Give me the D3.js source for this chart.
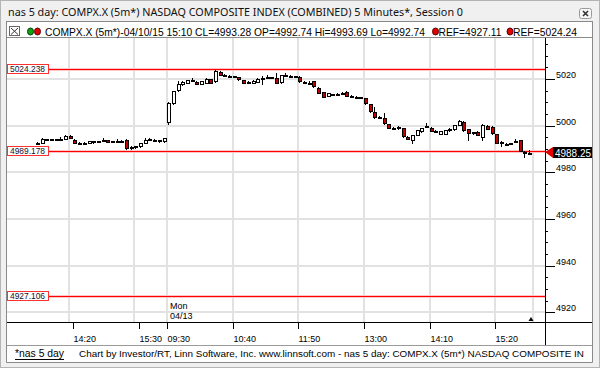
<!DOCTYPE html>
<html><head><meta charset="utf-8">
<script src="https://cdn.jsdelivr.net/npm/d3@7"></script>
<style>body{margin:0;background:#f0f0f0;}svg{display:block;}</style>
</head><body>
<svg id="c" width="600" height="368"></svg>
<script>
// ---- data ----
const opens = [
4992.3,4992.6,4994.2,4994.1,4994.0,4994.1,4994.3,4995.6,4993.9,4992.7,
4992.6,4992.6,4993.3,4993.4,4993.6,4993.9,4993.2,4993.4,4993.6,4993.8,
4990.3,4991.0,4991.2,4992.5,4994.0,4994.0,4993.8,4993.4,
5001.4,5009.6,5015.2,5017.8,5018.5,5019.2,5018.9,5018.0,5018.3,5019.9,
5019.0,5023.2,5021.6,5021.4,5021.3,5020.8,5019.6,5018.8,5018.4,5018.9,
5020.0,5020.6,5020.7,5020.3,5018.6,5021.7,5021.5,5021.3,5021.0,5018.9,
5018.5,5019.1,5016.3,5014.3,5012.9,5013.2,5013.7,5014.0,5014.6,5012.6,
5012.4,5012.1,5011.7,5009.3,5006.0,5003.6,5003.2,5000.7,4999.0,4999.2,
4998.9,4995.3,4994.0,4996.2,4997.6,4999.8,4999.1,4997.6,4996.5,4996.6,
4998.3,4998.4,5000.3,5001.7,4998.4,4997.0,4997.4,4995.0,5000.0,4999.5,
4996.4,4993.2,4992.2,4992.4,4993.4,4993.8,4988.9,4988.4];
const highs = [
4992.9,4994.6,4994.4,4994.3,4994.3,4995.0,4995.9,4995.8,4994.2,4993.1,
4993.0,4993.5,4993.5,4993.6,4994.5,4994.0,4993.5,4994.3,4993.8,4994.2,
4991.2,4991.4,4992.5,4994.7,4994.8,4994.2,4994.0,4994.9,
5010.0,5015.0,5019.0,5019.3,5019.8,5020.6,5019.1,5019.2,5020.4,5020.1,
5023.7,5023.5,5022.3,5021.7,5021.5,5021.0,5019.8,5019.0,5019.4,5020.4,
5021.2,5021.6,5021.0,5022.6,5021.9,5022.6,5021.9,5021.5,5021.2,5019.1,
5019.2,5019.3,5016.5,5014.5,5014.2,5013.7,5014.0,5014.3,5014.8,5013.1,
5012.7,5012.3,5011.9,5009.5,5008.0,5004.3,5005.4,5000.9,4999.6,4999.9,
4999.1,4995.5,4996.2,4998.2,4999.2,5001.3,4999.4,4998.0,4997.8,4998.2,
4998.9,5000.5,5002.6,5002.0,4998.6,4997.5,4997.6,5000.8,5000.3,4999.8,
4996.6,4993.5,4992.4,4992.6,4994.3,4994.0,4989.2,4989.4];
const lows = [
4992.0,4992.4,4993.9,4993.9,4993.8,4994.0,4994.1,4994.6,4992.4,4992.2,
4992.2,4992.5,4992.7,4993.3,4993.5,4993.1,4993.1,4993.3,4993.2,4989.9,
4989.8,4990.5,4991.0,4992.4,4993.8,4993.7,4993.0,4993.2,
5000.6,5009.4,5015.0,5017.6,5018.3,5019.0,5017.8,5017.8,5018.2,5018.3,
5018.8,5021.6,5021.3,5021.1,5021.0,5019.8,5018.3,5018.1,5018.3,5018.8,
5017.7,5020.4,5020.6,5018.2,5018.4,5021.5,5021.2,5021.0,5018.8,5018.4,
5018.3,5016.6,5013.8,5012.3,5012.7,5013.0,5013.0,5013.8,5012.7,5012.3,
5012.1,5011.8,5009.5,5005.9,5003.5,5003.1,5000.8,4998.8,4998.7,4998.7,
4995.2,4994.2,4992.4,4996.1,4997.5,4999.6,4997.7,4997.3,4996.3,4996.4,
4997.8,4998.2,5000.2,4997.9,4993.9,4996.6,4995.9,4994.0,4998.4,4996.5,
4992.5,4991.3,4991.9,4992.1,4993.3,4989.1,4986.6,4987.8];
const closes = [
4992.6,4994.2,4994.1,4994.0,4994.1,4994.3,4995.6,4994.9,4992.7,4992.6,
4992.5,4993.3,4993.4,4993.5,4993.8,4993.2,4993.3,4993.6,4993.5,4990.4,
4991.0,4991.1,4992.4,4993.9,4994.1,4993.9,4993.3,4994.7,
5009.8,5014.8,5018.0,5018.9,5019.5,5019.6,5018.0,5019.0,5020.2,5018.5,
5023.4,5021.8,5021.5,5021.3,5021.2,5020.0,5018.5,5018.3,5019.2,5020.1,
5020.3,5020.7,5020.8,5018.5,5021.7,5021.8,5021.4,5021.2,5019.0,5018.6,
5018.4,5016.8,5014.0,5012.5,5014.0,5013.5,5013.6,5014.1,5012.9,5012.4,
5012.3,5012.0,5009.7,5006.1,5003.7,5003.5,5001.0,4999.0,4998.9,4999.3,
4995.4,4994.4,4996.0,4998.0,4999.0,5000.0,4997.9,4997.5,4997.6,4998.0,
4998.4,5000.3,5002.0,4998.1,4997.0,4997.1,4996.1,5000.2,4998.6,4996.7,
4992.7,4993.0,4992.1,4992.3,4993.6,4989.3,4988.6,4988.25];

// bar categories: Friday 13:40-15:55, Monday 09:30-15:55 (plus session end 16:00)
const sessions = [["Fri", "13:40", 28], ["Mon", "09:30", 78]];
const barKeys = [];
sessions.forEach(([day, start, n]) => {
  let [h, m] = start.split(":").map(Number);
  for (let k = 0; k < n; k++) {
    const t = h * 60 + m + 5 * k;
    barKeys.push(day + " " + String(Math.floor(t / 60)).padStart(2, "0") + ":" + String(t % 60).padStart(2, "0"));
  }
});
const xTickKeys = ["Fri 14:20","Fri 15:30","Mon 09:30","Mon 10:40","Mon 11:50","Mon 13:00","Mon 14:10","Mon 15:20"];
const xGridKeys = ["Fri 14:15","Fri 15:25","Mon 09:30","Mon 10:40","Mon 11:50","Mon 13:00","Mon 14:10","Mon 15:20","Mon 16:00"];
const yMajorTicks = [4920, 4940, 4960, 4980, 5000, 5020];
const yMinorTicks = [4920,4925,4930,4935,4940,4945,4950,4955,4960,4965,4970,4975,4980,4985,4990,4995,5000,5005,5010,5015,5020,5025,5030,5035];
const refLevels = [5024.238, 4989.178, 4927.106];
const refLabels = ["5024.238", "4989.178", "4927.106"];
const lastPrice = 4988.25;
const dayMarker = ["Mon", "04/13"];
const titleText = "nas 5 day: COMPX.X (5m*) NASDAQ COMPOSITE INDEX (COMBINED) 5 Minutes*, Session 0";
const legendText = "COMPX.X (5m*)-04/10/15 15:10 CL=4993.28 OP=4992.74 Hi=4993.69 Lo=4992.74";
const refLegend = ["REF=4927.11", "REF=5024.24"];
const footerLink = "*nas 5 day";
const footerText = "Chart by Investor/RT, Linn Software, Inc. www.linnsoft.com - nas 5 day: COMPX.X (5m*) NASDAQ COMPOSITE IN";

// ---- layout ----
const plotL = 7, plotR = 545, plotT = 38, plotB = 322, frameR = 592, footT = 345, frameB = 362;
const svg = d3.select("#c");
const keyIndex = k => k === "Mon 16:00" ? barKeys.length : barKeys.indexOf(k);

const x = d3.scaleLinear().domain([0, 106]).range([36, 36 + 106 * 4.686]).interpolate(d3.interpolateRound);
const y = d3.scaleLinear().domain([4915.8, 5037.6]).range([plotB, plotT]).interpolate(d3.interpolateRound);

// background & frame
svg.append("rect").attr("width", 600).attr("height", 368).attr("fill", "#f0f0f0");
svg.append("rect").attr("x", 0.5).attr("y", 0.5).attr("width", 599).attr("height", 367).attr("fill", "none").attr("stroke", "#b4b4b4");
svg.append("rect").attr("x", plotL).attr("y", plotT).attr("width", frameR - plotL).attr("height", frameB - plotT).attr("fill", "#fff");
svg.append("rect").attr("x", 6.5).attr("y", 21.5).attr("width", 586).attr("height", 16).attr("fill", "#fff").attr("stroke", "#8a8a8a");
svg.append("path").attr("d", `M6.5,37.5V${frameB + 0.5}H${frameR + 0.5}V21.5`).attr("fill", "none").attr("stroke", "#8a8a8a");
svg.append("line").attr("x1", 6.5).attr("x2", frameR + 0.5).attr("y1", footT + 0.5).attr("y2", footT + 0.5).attr("stroke", "#9a9a9a");

// gridlines
const grid = svg.append("g").attr("stroke", "#e2e2e2").attr("stroke-width", 2);
grid.selectAll("line.v").data(xGridKeys).join("line").attr("class", "v")
  .attr("x1", k => x(keyIndex(k))).attr("x2", k => x(keyIndex(k)))
  .attr("y1", plotT).attr("y2", plotB);
grid.selectAll("line.h").data(yMajorTicks).join("line").attr("class", "h")
  .attr("x1", plotL).attr("x2", plotR).attr("y1", d => y(d)).attr("y2", d => y(d));

// reference lines (pink halo + red core)
const refG = svg.append("g");
refG.selectAll("line.halo").data(refLevels).join("line").attr("class", "halo")
  .attr("x1", plotL).attr("x2", plotR)
  .attr("y1", d => y(d) + 0.5).attr("y2", d => y(d) + 0.5)
  .attr("stroke", "#ffc4c4").attr("stroke-width", 3);
refG.selectAll("line.core").data(refLevels).join("line").attr("class", "core")
  .attr("x1", plotL).attr("x2", plotR)
  .attr("y1", d => y(d) + 0.5).attr("y2", d => y(d) + 0.5)
  .attr("stroke", "#ff0000").attr("stroke-width", 1);

// candles
const idx = d3.range(opens.length);
const cg = svg.append("g");
cg.selectAll("line").data(idx).join("line")
  .attr("x1", i => x(i) + 1.5).attr("x2", i => x(i) + 1.5)
  .attr("y1", i => y(highs[i])).attr("y2", i => y(lows[i]) + 1)
  .attr("stroke", "#000").attr("stroke-width", 1);
cg.selectAll("rect").data(idx).join("rect")
  .attr("x", i => x(i) + 0.5)
  .attr("y", i => y(Math.max(opens[i], closes[i])) + 0.5)
  .attr("width", 3)
  .attr("height", i => Math.max(1, y(Math.min(opens[i], closes[i])) - y(Math.max(opens[i], closes[i]))))
  .attr("fill", i => closes[i] >= opens[i] ? "#fff" : "#c00000")
  .attr("stroke", "#000").attr("stroke-width", 1);

// reference labels (left)
const rl = svg.append("g").selectAll("g").data(refLevels).join("g")
  .attr("transform", d => `translate(0,${y(d)})`);
rl.append("rect").attr("x", 7.5).attr("y", -4.5).attr("width", 41).attr("height", 9)
  .attr("fill", "#fff").attr("stroke", "#ff3030");
rl.append("text").attr("x", 10).attr("y", 3).text((d, i) => refLabels[i])
  .attr("font-family", "Liberation Sans, Arial, sans-serif").attr("font-size", 9).attr("fill", "#101030")
  .attr("textLength", 35).attr("lengthAdjust", "spacingAndGlyphs");

// right axis
const yMinor = svg.append("g").attr("transform", `translate(${plotR},0)`)
  .call(d3.axisRight(y).tickValues(yMinorTicks.filter(v => !yMajorTicks.includes(v))).tickSize(3).tickFormat(""));
yMinor.select(".domain").remove();
const yMajor = svg.append("g").attr("transform", `translate(${plotR},0)`)
  .call(d3.axisRight(y).tickValues(yMajorTicks).tickSize(10).tickFormat(d3.format("d")));
yMajor.select(".domain").remove();
yMajor.selectAll("text").attr("x", 11).attr("dy", "-0.15em")
  .attr("font-family", "Liberation Sans, Arial, sans-serif").attr("font-size", 9).attr("fill", "#000");
svg.append("line").attr("x1", plotR + 0.5).attr("x2", plotR + 0.5).attr("y1", plotT).attr("y2", footT)
  .attr("stroke", "#000");

// bottom axis
const xAxis = svg.append("g").attr("transform", `translate(0,${plotB})`)
  .call(d3.axisBottom(x).tickValues(xTickKeys.map(keyIndex)).tickSize(7)
    .tickFormat((d, i) => xTickKeys[i].slice(4)));
xAxis.select(".domain").remove();
xAxis.selectAll("text").attr("text-anchor", "start").attr("x", 0).attr("y", 20).attr("dy", 0)
  .attr("font-family", "Liberation Sans, Arial, sans-serif").attr("font-size", 9).attr("fill", "#000");
svg.append("line").attr("x1", plotL).attr("x2", frameR).attr("y1", plotB + 0.5).attr("y2", plotB + 0.5)
  .attr("stroke", "#000");

// day marker
svg.append("g").selectAll("text").data(dayMarker).join("text")
  .attr("x", x(keyIndex("Mon 09:30")) + 3).attr("y", (d, i) => 309 + i * 10).text(d => d)
  .attr("font-family", "Liberation Sans, Arial, sans-serif").attr("font-size", 9).attr("fill", "#000");

// last bar marker triangle
const lx = x(opens.length - 1) + 3;
svg.append("path").attr("d", `M${lx - 2.5},${plotB - 1}L${lx},${plotB - 5}L${lx + 2.5},${plotB - 1}Z`).attr("fill", "#000");

// last price marker
const py = y(lastPrice);
svg.append("path").attr("d", `M${plotR},${py - 1}L${plotR + 8},${py - 6}L${plotR + 8},${py + 5}Z`).attr("fill", "#e00000");
svg.append("rect").attr("x", plotR + 8).attr("y", py - 6).attr("width", frameR - plotR - 8).attr("height", 11).attr("fill", "#000");
svg.append("text").attr("x", plotR + 10).attr("y", py + 3.5).text(d3.format(".2f")(lastPrice))
  .attr("font-family", "Liberation Sans, Arial, sans-serif").attr("font-size", 10).attr("fill", "#fff")
  .attr("textLength", 36).attr("lengthAdjust", "spacingAndGlyphs");

// title
svg.append("text").attr("x", 8).attr("y", 15.5).text(titleText)
  .attr("font-family", "Noto Sans, Open Sans, sans-serif").attr("font-size", 11.5).attr("fill", "#111")
  .attr("textLength", 455).attr("lengthAdjust", "spacingAndGlyphs");
// close button
svg.append("rect").attr("x", 579.5).attr("y", 8.5).attr("width", 12).attr("height", 10).attr("rx", 2)
  .attr("fill", "#f6f6f6").attr("stroke", "#9a9a9a");
svg.append("path").attr("d", "M583,11L588,16M588,11L583,16").attr("stroke", "#333").attr("stroke-width", 1.6);

// legend
svg.append("rect").attr("x", 9.5).attr("y", 26.5).attr("width", 10).attr("height", 9).attr("fill", "#fff").attr("stroke", "#666");
svg.append("path").attr("d", "M11,28L18,34.5M18,28L11,34.5").attr("stroke", "#333");
svg.append("ellipse").attr("cx", 30.5).attr("cy", 31.5).attr("rx", 3).attr("ry", 3.5).attr("fill", "#10a010").attr("stroke", "#064006");
svg.append("ellipse").attr("cx", 37.5).attr("cy", 31.5).attr("rx", 3).attr("ry", 3.5).attr("fill", "#e00000").attr("stroke", "#600000");
svg.append("text").attr("x", 45).attr("y", 35.5).text(legendText)
  .attr("font-family", "Liberation Sans, Arial, sans-serif").attr("font-size", 10.5).attr("fill", "#000")
  .attr("textLength", 380).attr("lengthAdjust", "spacingAndGlyphs");
const refX = [[435.5, 438.5, 63], [510, 513, 64]];
refLegend.forEach((t, i) => {
  svg.append("ellipse").attr("cx", refX[i][0]).attr("cy", 31.5).attr("rx", 3).attr("ry", 3.5).attr("fill", "#e00000").attr("stroke", "#600000");
  svg.append("text").attr("x", refX[i][1]).attr("y", 35.5).text(t)
    .attr("font-family", "Liberation Sans, Arial, sans-serif").attr("font-size", 10.5).attr("fill", "#000")
    .attr("textLength", refX[i][2]).attr("lengthAdjust", "spacingAndGlyphs");
});

// footer
svg.append("text").attr("x", 15).attr("y", 357).text(footerLink)
  .attr("font-family", "Liberation Sans, Arial, sans-serif").attr("font-size", 10.5).attr("fill", "#000")
  .attr("textLength", 49).attr("lengthAdjust", "spacingAndGlyphs");
svg.append("line").attr("x1", 15).attr("x2", 64).attr("y1", 359.5).attr("y2", 359.5).attr("stroke", "#000");
svg.append("text").attr("x", 79).attr("y", 357).text(footerText)
  .attr("font-family", "Liberation Sans, Arial, sans-serif").attr("font-size", 9.6).attr("fill", "#000")
  .attr("textLength", 505).attr("lengthAdjust", "spacingAndGlyphs");
</script>
</body></html>
